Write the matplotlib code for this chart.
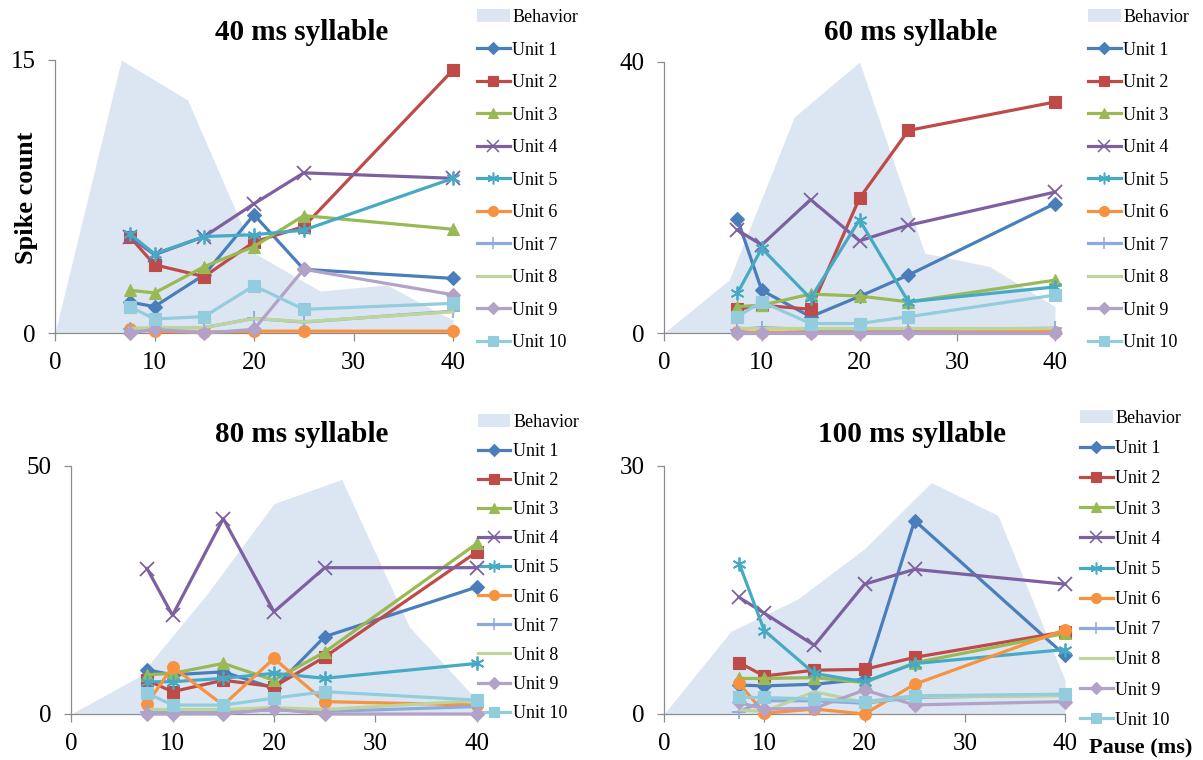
import matplotlib
matplotlib.use("Agg")
import matplotlib.pyplot as plt
from matplotlib.patches import Patch
from matplotlib.lines import Line2D

plt.rcParams['font.family'] = ['Liberation Serif', 'DejaVu Serif']

# Pause durations (ms) at which units were recorded
pause = [7.5, 10, 15, 20, 25, 40]
# Pause grid of the behavioural response curve
behav_x = [0, 6.67, 13.33, 20, 26.67, 33.33, 40]

unit_labels = ["Unit %d" % i for i in range(1, 11)]

# ---- 40 ms syllable ----
behav_40 = [0, 15, 12.8, 4.4, 2.3, 2.65, 0.7]
units_40 = [
    [1.7, 1.45, 3.2, 6.5, 3.5, 3.0],
    [5.3, 3.75, 3.1, 5.0, 5.85, 14.45],
    [2.35, 2.2, 3.65, 4.75, 6.45, 5.7],
    [5.3, 4.3, 5.3, 7.1, 8.8, 8.5],
    [5.45, 4.35, 5.3, 5.4, 5.65, 8.5],
    [0.2, 0.1, 0.05, 0.1, 0.1, 0.1],
    [0.2, 0.25, 0.3, 0.8, 0.6, 1.2],
    [0.25, 0.3, 0.3, 0.8, 0.62, 1.17],
    [0.0, 0.2, 0.0, 0.2, 3.5, 2.1],
    [1.45, 0.77, 0.9, 2.6, 1.3, 1.63],
]

# ---- 60 ms syllable ----
behav_60 = [0, 7.85, 31.9, 40, 11.8, 9.8, 3.9]
units_60 = [
    [16.9, 6.3, 2.4, 5.4, 8.55, 19.1],
    [3.5, 4.1, 3.5, 19.9, 29.9, 34.1],
    [3.9, 4.1, 5.75, 5.45, 4.6, 7.8],
    [15.2, 13.0, 19.7, 13.6, 15.9, 20.8],
    [5.85, 12.5, 5.1, 16.7, 4.6, 6.8],
    [0.1, 0.1, 0.1, 0.1, 0.1, 0.2],
    [0.5, 0.8, 0.5, 0.5, 0.5, 0.7],
    [0.7, 0.7, 0.7, 0.7, 0.7, 0.7],
    [0.0, 0.0, 0.0, 0.0, 0.0, 0.0],
    [2.4, 4.6, 1.4, 1.4, 2.4, 5.6],
]

# ---- 80 ms syllable ----
behav_80 = [0, 7.5, 24, 42.4, 47.3, 17.6, 2.8]
units_80 = [
    [8.9, 7.9, 8.5, 5.2, 15.6, 25.6],
    [6.8, 4.5, 6.8, 5.5, 11.5, 32.7],
    [7.9, 8.2, 10.2, 6.8, 12.5, 34.4],
    [29.3, 19.9, 39.4, 20.6, 29.5, 29.5],
    [6.5, 6.5, 7.2, 8.2, 7.2, 10.2],
    [2.1, 9.5, 1.8, 11.2, 2.5, 1.8],
    [0.5, 0.5, 0.5, 0.8, 0.5, 1.5],
    [0.9, 0.9, 0.9, 1.3, 0.9, 2.7],
    [0.0, 0.0, 0.0, 1.0, 0.0, 0.0],
    [4.2, 1.8, 1.8, 3.2, 4.5, 2.8],
]

# ---- 100 ms syllable ----
behav_100 = [0, 10.0, 13.9, 20, 28, 24, 4.1]
units_100 = [
    [3.5, 3.4, 3.6, 4.2, 23.4, 7.1],
    [6.2, 4.6, 5.3, 5.4, 6.85, 9.95],
    [4.3, 4.3, 4.4, 3.8, 6.2, 9.75],
    [14.1, 12.2, 8.3, 15.7, 17.5, 15.7],
    [18.2, 10.1, 4.9, 3.9, 6.1, 7.8],
    [3.7, 0.1, 0.6, 0.0, 3.6, 10.2],
    [0.3, 1.6, 1.6, 1.3, 2.0, 2.3],
    [0.5, 0.3, 2.7, 1.4, 2.1, 2.2],
    [1.4, 0.6, 0.7, 2.9, 1.1, 1.5],
    [2.0, 2.0, 1.8, 1.5, 2.2, 2.4],
]

colors = ['#4A7EBB', '#BE4B48', '#98B954', '#7D60A0', '#46AAC5',
          '#F69240', '#8EA9DB', '#BFD49A', '#B3A2C7', '#93CDDD']
markers = ['D', 's', '^', 'x', (6, 2, 0), 'o', '+', None, 'D', 's']
msizes = [7, 8.5, 9, 10, 10, 8.5, 10, 0, 7, 8.5]
behav_color = '#DCE6F2'
axis_color = '#8C8C8C'

W, H = 1203, 760
fig = plt.figure(figsize=(W / 100, H / 100), dpi=100)


def px_axes(x0, x40, y0, ytop):
    return fig.add_axes([x0 / W, 1 - y0 / H, (x40 - x0) / W, (y0 - ytop) / H])


panels = [
    dict(rect=(55, 453, 333, 60), ymax=15, behav=behav_40, units=units_40,
         title="40 ms syllable", tpos=(302, 32),
         leg=(477, 9), spacing=0.86),
    dict(rect=(664, 1055, 333, 62), ymax=40, behav=behav_60, units=units_60,
         title="60 ms syllable", tpos=(911, 32),
         leg=(1088, 9), spacing=0.86),
    dict(rect=(71, 477, 714, 466), ymax=50, behav=behav_80, units=units_80,
         title="80 ms syllable", tpos=(302, 434),
         leg=(478, 414), spacing=0.67),
    dict(rect=(664, 1065, 714, 466), ymax=30, behav=behav_100, units=units_100,
         title="100 ms syllable", tpos=(912, 434),
         leg=(1080, 410), spacing=0.73),
]

for p in panels:
    ax = px_axes(*p['rect'])
    ax.fill_between(behav_x, 0, p['behav'], color=behav_color, lw=0, zorder=1)
    handles = [Patch(facecolor=behav_color, edgecolor='none')]
    for i, vals in enumerate(p['units']):
        m = markers[i]
        thin = m in ('x', '+', (6, 2, 0))
        ax.plot(pause, vals, color=colors[i], lw=2.3, marker=m,
                markersize=msizes[i], markeredgewidth=1.3 if thin else 0.8,
                markeredgecolor=colors[i], markerfacecolor=colors[i],
                zorder=3 + i, clip_on=False)
        handles.append(Line2D([], [], color=colors[i], lw=2.3, marker=m,
                              markersize=msizes[i] * 0.85,
                              markeredgewidth=1.1 if thin else 0.8,
                              markeredgecolor=colors[i],
                              markerfacecolor=colors[i]))
    ax.set_xlim(0, 40)
    ax.set_ylim(0, p['ymax'])
    ax.set_xticks([0, 10, 20, 30, 40])
    ax.set_yticks([0, p['ymax']])
    for s in ('top', 'right'):
        ax.spines[s].set_visible(False)
    for s in ('left', 'bottom'):
        ax.spines[s].set_color(axis_color)
        ax.spines[s].set_linewidth(0.9)
    ax.tick_params(axis='x', direction='out', length=6, width=0.9,
                   color=axis_color, labelsize=18, pad=8)
    ax.tick_params(axis='y', direction='out', length=5, width=0.9,
                   color=axis_color, labelsize=18, pad=9)
    ax.set_facecolor('none')
    fig.text(p['tpos'][0] / W, 1 - p['tpos'][1] / H, p['title'],
             ha='center', va='center', fontsize=21, fontweight='bold')
    lx, ly = p['leg']
    ax.legend(handles, ["Behavior"] + unit_labels, loc='upper left',
              bbox_to_anchor=(lx / W, 1 - ly / H),
              bbox_transform=fig.transFigure, frameon=False, fontsize=13,
              handlelength=1.8, handletextpad=0.15,
              labelspacing=p['spacing'], borderpad=0, borderaxespad=0)

fig.text(27 / W, 1 - 198 / H, "Spike count", rotation=90, ha='center',
         va='center', fontsize=19, fontweight='bold')
fig.text(1141 / W, 1 - 748 / H, "Pause (ms)", ha='center', va='center',
         fontsize=16, fontweight='bold')

fig.savefig("out.png", dpi=100)
